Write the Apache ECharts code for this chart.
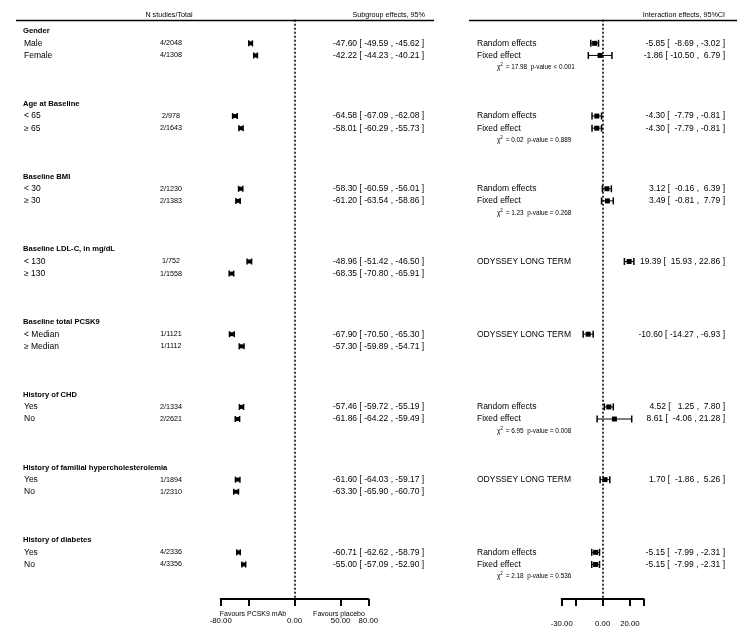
<!DOCTYPE html>
<html>
<head>
<meta charset="utf-8">
<title>Subgroup forest plot</title>
<script src="https://cdn.jsdelivr.net/npm/echarts@6/dist/echarts.min.js"></script>
<style>
  html, body { margin: 0; background: #fff; }
  #chart { width: 754px; height: 635px; }
</style>
</head>
<body>
<div id="chart"></div>
<script>
// subgroup headings and rows
const groups = ['Gender', 'Age at Baseline', 'Baseline BMI', 'Baseline LDL-C, in mg/dL',
  'Baseline total PCSK9', 'History of CHD', 'History of familial hypercholesterolemia', 'History of diabetes'];
const subLabels = ['Male', 'Female', '< 65', '≥ 65', '< 30', '≥ 30', '< 130', '≥ 130',
  '< Median', '≥ Median', 'Yes', 'No', 'Yes', 'No', 'Yes', 'No'];
const nTotal = ['4/2048', '4/1308', '2/978', '2/1643', '2/1230', '2/1383', '1/752', '1/1558',
  '1/1121', '1/1112', '2/1334', '2/2621', '1/1894', '1/2310', '4/2336', '4/3356'];
const subEst = [-47.60, -42.22, -64.58, -58.01, -58.30, -61.20, -48.96, -68.35,
  -67.90, -57.30, -57.46, -61.86, -61.60, -63.30, -60.71, -55.00];
const subLo = [-49.59, -44.23, -67.09, -60.29, -60.59, -63.54, -51.42, -70.80,
  -70.50, -59.89, -59.72, -64.22, -64.03, -65.90, -62.62, -57.09];
const subHi = [-45.62, -40.21, -62.08, -55.73, -56.01, -58.86, -46.50, -65.91,
  -65.30, -54.71, -55.19, -59.49, -59.17, -60.70, -58.79, -52.90];

// interaction effects
const intGroup = [0, 0, 1, 1, 2, 2, 3, 4, 5, 5, 6, 7, 7];
const intLabel = ['Random effects', 'Fixed effect', 'Random effects', 'Fixed effect',
  'Random effects', 'Fixed effect', 'ODYSSEY LONG TERM', 'ODYSSEY LONG TERM',
  'Random effects', 'Fixed effect', 'ODYSSEY LONG TERM', 'Random effects', 'Fixed effect'];
const intEst = [-5.85, -1.86, -4.30, -4.30, 3.12, 3.49, 19.39, -10.60, 4.52, 8.61, 1.70, -5.15, -5.15];
const intLo = [-8.69, -10.50, -7.79, -7.79, -0.16, -0.81, 15.93, -14.27, 1.25, -4.06, -1.86, -7.99, -7.99];
const intHi = [-3.02, 6.79, -0.81, -0.81, 6.39, 7.79, 22.86, -6.93, 7.80, 21.28, 5.26, -2.31, -2.31];

const chiGroup = [0, 1, 2, 5, 7];
const chiVal = ['17.98', '0.02', '1.23', '6.95', '2.18'];
const pText = ['< 0.001', '= 0.889', '= 0.268', '= 0.008', '= 0.536'];

// axis ticks
const leftTicks = [-80, -50, 0, 50, 80];
const leftTickLabels = [-80, 0, 50, 80];
const rightTicks = [-30, -20, 0, 20, 30];
const rightTickLabels = [-30, 0, 20];

const FONT = 'Liberation Sans, Arial, sans-serif';
const ROWS_PER_GROUP = 6;

// row index of every subgroup line: heading at 6g, items at 6g+1, 6g+2
const subIdx = subLabels.map((_, i) => Math.floor(i / 2) * ROWS_PER_GROUP + 1 + (i % 2));
const intIdx = [];
const seen = {};
intGroup.forEach(g => {
  seen[g] = (seen[g] || 0);
  intIdx.push(g * ROWS_PER_GROUP + 1 + seen[g]);
  seen[g]++;
});

const fmt = v => v.toFixed(2);
const pad = (v, n) => fmt(v).padStart(n, ' ');
const effText = (e, l, h) => fmt(e) + ' [ ' + fmt(l) + ' , ' + fmt(h) + ' ]';
const intText = (e, l, h) => fmt(e) + ' [ ' + pad(l, 6) + ' , ' + pad(h, 5) + ' ]';

function ciRender(capH, box, lw) {
  return function (params, api) {
    const y = api.coord([0, api.value(3)])[1];
    const xe = api.coord([api.value(0), 0])[0];
    const xl = api.coord([api.value(1), 0])[0];
    const xh = api.coord([api.value(2), 0])[0];
    const st = { stroke: '#000', lineWidth: lw };
    return {
      type: 'group',
      children: [
        { type: 'line', shape: { x1: xl, y1: y, x2: xh, y2: y }, style: st },
        { type: 'line', shape: { x1: xl, y1: y - capH / 2, x2: xl, y2: y + capH / 2 }, style: { stroke: '#000', lineWidth: 1.5 } },
        { type: 'line', shape: { x1: xh, y1: y - capH / 2, x2: xh, y2: y + capH / 2 }, style: { stroke: '#000', lineWidth: 1.5 } },
        { type: 'rect', shape: { x: xe - box / 2, y: y - box / 2, width: box, height: box }, style: { fill: '#000' } }
      ]
    };
  };
}

function txt(x, y, text, opt) {
  return {
    type: 'text',
    style: Object.assign({
      x: x, y: y, text: text, fill: '#000', fontFamily: FONT, fontSize: 8.5,
      align: 'left', verticalAlign: 'middle'
    }, opt || {})
  };
}

// left text rows: headings + items
const leftText = [];
groups.forEach((g, gi) => leftText.push({ idx: gi * ROWS_PER_GROUP, kind: 'head', label: g }));
subLabels.forEach((s, i) => leftText.push({ idx: subIdx[i], kind: 'item', i: i }));

const rightText = [];
intLabel.forEach((s, i) => rightText.push({ idx: intIdx[i], kind: 'item', i: i }));
chiGroup.forEach((g, k) => rightText.push({ idx: g * ROWS_PER_GROUP + 3, kind: 'chi', k: k }));

const yAxisBase = { type: 'value', inverse: true, min: -0.95, max: 46.85, show: false };
const xAxisBase = {
  type: 'value',
  splitLine: { show: false },
  axisLine: { show: true, onZero: false, lineStyle: { color: '#000', width: 2 } },
  axisTick: { show: true, length: 7, lineStyle: { color: '#000', width: 2 } }
};

const chart = echarts.init(document.getElementById('chart'));
chart.setOption({
  animation: false,
  backgroundColor: '#fff',
  grid: [
    { left: 220.7, width: 147.6, top: 19.7, height: 579.3 },
    { left: 561.7, width: 81.9, top: 19.7, height: 579.3 }
  ],
  xAxis: [
    Object.assign({}, xAxisBase, {
      gridIndex: 0, min: -80, max: 80,
      axisTick: Object.assign({}, xAxisBase.axisTick, { customValues: leftTicks }),
      axisLabel: { customValues: leftTickLabels, formatter: v => fmt(v), margin: 18,
        fontSize: 7.8, color: '#000', fontFamily: FONT }
    }),
    Object.assign({}, xAxisBase, {
      gridIndex: 1, min: -30, max: 30,
      axisTick: Object.assign({}, xAxisBase.axisTick, { customValues: rightTicks }),
      axisLabel: { customValues: rightTickLabels, formatter: v => fmt(v), margin: 21,
        fontSize: 7.8, color: '#000', fontFamily: FONT }
    })
  ],
  yAxis: [
    Object.assign({ gridIndex: 0 }, yAxisBase),
    Object.assign({ gridIndex: 1 }, yAxisBase)
  ],
  graphic: [
    { type: 'line', shape: { x1: 16, y1: 20.5, x2: 434, y2: 20.5 }, style: { stroke: '#000', lineWidth: 1.5 } },
    { type: 'line', shape: { x1: 469, y1: 20.5, x2: 737, y2: 20.5 }, style: { stroke: '#000', lineWidth: 1.5 } },
    { type: 'text', style: { x: 169, y: 15, text: 'N studies/Total', fontSize: 7.2, fontFamily: FONT, fill: '#000', align: 'center', verticalAlign: 'middle' } },
    { type: 'text', style: { x: 425, y: 15, text: 'Subgroup effects, 95%', fontSize: 7.2, fontFamily: FONT, fill: '#000', align: 'right', verticalAlign: 'middle' } },
    { type: 'text', style: { x: 725, y: 15, text: 'Interaction effects, 95%CI', fontSize: 7.2, fontFamily: FONT, fill: '#000', align: 'right', verticalAlign: 'middle' } },
    { type: 'text', style: { x: 253, y: 614, text: 'Favours PCSK9 mAb', fontSize: 7, fontFamily: FONT, fill: '#000', align: 'center', verticalAlign: 'middle' } },
    { type: 'text', style: { x: 339, y: 614, text: 'Favours placebo', fontSize: 7, fontFamily: FONT, fill: '#000', align: 'center', verticalAlign: 'middle' } }
  ],
  series: [
    {
      type: 'custom', xAxisIndex: 0, yAxisIndex: 0,
      renderItem: ciRender(6, 4, 1.2),
      encode: { x: [0, 1, 2], y: 3 },
      data: subEst.map((e, i) => [e, subLo[i], subHi[i], subIdx[i]]),
      markLine: {
        silent: true, symbol: 'none', label: { show: false },
        lineStyle: { color: '#000', type: [2, 2], width: 1.6 },
        data: [{ xAxis: 0 }]
      }
    },
    {
      type: 'custom', xAxisIndex: 1, yAxisIndex: 1,
      renderItem: ciRender(7, 5, 1),
      encode: { x: [0, 1, 2], y: 3 },
      data: intEst.map((e, i) => [e, intLo[i], intHi[i], intIdx[i]]),
      markLine: {
        silent: true, symbol: 'none', label: { show: false },
        lineStyle: { color: '#000', type: [2, 2], width: 1.6 },
        data: [{ xAxis: 0 }]
      }
    },
    {
      type: 'custom', xAxisIndex: 0, yAxisIndex: 0,
      encode: { x: 0, y: 1 },
      data: leftText.map(r => [0, r.idx]),
      renderItem: function (params, api) {
        const r = leftText[params.dataIndex];
        const y = api.coord([0, api.value(1)])[1];
        if (r.kind === 'head') {
          return txt(23, y, r.label, { fontWeight: 'bold', fontSize: 7.6 });
        }
        const i = r.i;
        return {
          type: 'group',
          children: [
            txt(24, y, subLabels[i]),
            txt(171, y, nTotal[i], { align: 'center', fontSize: 7.2 }),
            txt(333, y, effText(subEst[i], subLo[i], subHi[i]))
          ]
        };
      }
    },
    {
      type: 'custom', xAxisIndex: 1, yAxisIndex: 1,
      encode: { x: 0, y: 1 },
      data: rightText.map(r => [0, r.idx]),
      renderItem: function (params, api) {
        const r = rightText[params.dataIndex];
        const y = api.coord([0, api.value(1)])[1];
        if (r.kind === 'chi') {
          return {
            type: 'text',
            style: {
              x: 497, y: y, verticalAlign: 'middle', align: 'left',
              text: '{a|χ}{s|2}{a| = ' + chiVal[r.k] + '  p-value ' + pText[r.k] + '}',
              rich: {
                a: { fontSize: 6.4, fontFamily: FONT, fill: '#000' },
                s: { fontSize: 4.5, fontFamily: FONT, fill: '#000', padding: [0, 1, 5, 0] }
              }
            }
          };
        }
        const i = r.i;
        return {
          type: 'group',
          children: [
            txt(477, y, intLabel[i]),
            txt(725, y, intText(intEst[i], intLo[i], intHi[i]), { align: 'right' })
          ]
        };
      }
    }
  ]
});
</script>
</body>
</html>
